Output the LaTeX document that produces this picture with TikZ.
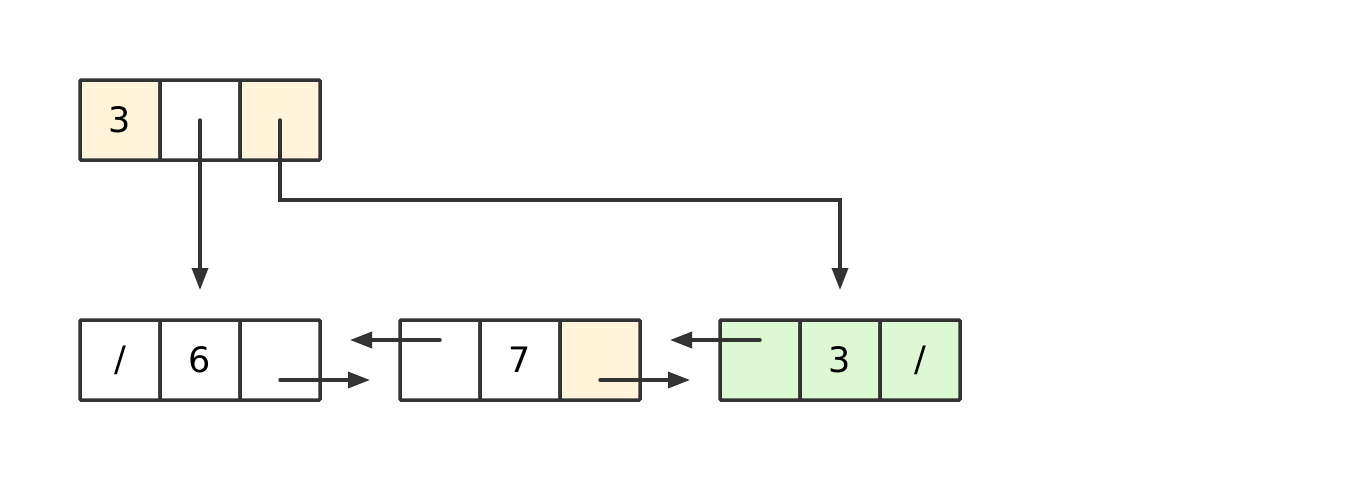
\documentclass[tikz,border=0pt]{standalone}
\usepackage{fontspec}
\setmainfont{DejaVu Sans}
\usetikzlibrary{arrows.meta}
\definecolor{cream}{HTML}{FFF4D9}
\definecolor{mint}{HTML}{DCF9D3}
\definecolor{ink}{HTML}{333333}
\tikzset{
  cell/.style={draw=ink, line width=3.5pt, minimum width=80pt, minimum height=80pt, inner sep=0pt, outer sep=0pt, font=\fontsize{35}{40}\selectfont, text=black, rounded corners=1pt},
  link/.style={draw=ink, line width=3.5pt, -{Triangle[length=22pt,width=16pt]}, line cap=round}
}
\begin{document}
\begin{tikzpicture}[x=1pt,y=-1pt]
\useasboundingbox (0,0) rectangle (1360,480);
% head
\node[cell, fill=cream] (h1) at (120,120) {3};
\node[cell] (h2) at (200,120) {};
\node[cell, fill=cream] (h3) at (280,120) {};
% list nodes
\node[cell] (a1) at (120,360) {/};
\node[cell] (a2) at (200,360) {6};
\node[cell] (a3) at (280,360) {};
\node[cell] (b1) at (440,360) {};
\node[cell] (b2) at (520,360) {7};
\node[cell, fill=cream] (b3) at (600,360) {};
\node[cell, fill=mint] (c1) at (760,360) {};
\node[cell, fill=mint] (c2) at (840,360) {3};
\node[cell, fill=mint] (c3) at (920,360) {/};
% arrow endpoints
\coordinate (t1) at (200,290);
\coordinate (t2) at (840,290);
\coordinate (ra) at (370,380);
\coordinate (lb) at (350,340);
\coordinate (rb) at (690,380);
\coordinate (lc) at (670,340);
\draw[link] (h2.center) -- (t1);
\draw[link] (h3.center) -- ++(0,80) -| (t2);
\draw[link] ([yshift=-20pt]a3.center) -- (ra);
\draw[link] ([yshift=20pt]b1.center) -- (lb);
\draw[link] ([yshift=-20pt]b3.center) -- (rb);
\draw[link] ([yshift=20pt]c1.center) -- (lc);
\end{tikzpicture}
\end{document}
